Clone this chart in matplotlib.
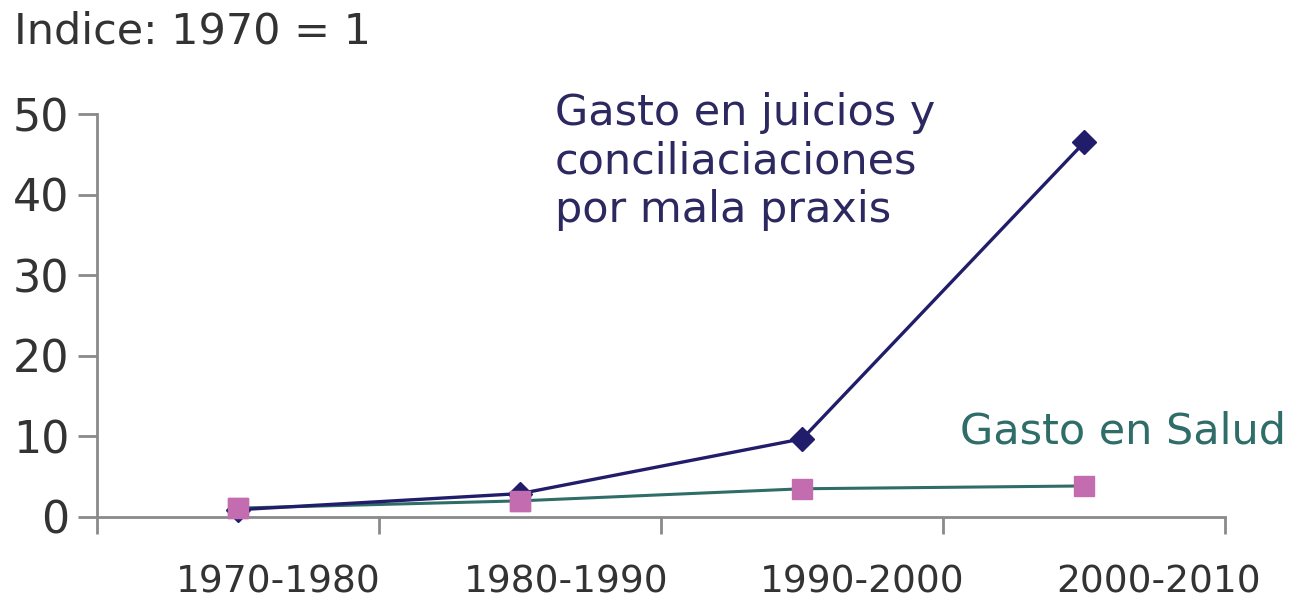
import matplotlib
matplotlib.use("Agg")
import matplotlib.pyplot as plt
import matplotlib.transforms as mtransforms

categories = ["1970-1980", "1980-1990", "1990-2000", "2000-2010"]
juicios = [0.9, 2.9, 9.7, 46.5]
salud = [1.1, 2.0, 3.5, 3.85]
yticks = [0, 10, 20, 30, 40, 50]

navy = "#211d6b"
teal = "#2f6d68"
pink = "#c46cb0"
axis_gray = "#8a8a8a"

plt.rcParams['font.family'] = ['DejaVu Sans']
fig = plt.figure(figsize=(12.94, 6.05), dpi=100)
ax = fig.add_axes([0.075, 0.1455, 0.872, 0.666])

x = list(range(len(categories)))
ax.plot(x, salud, color=teal, lw=2.2, marker="s", ms=14, mfc=pink, mec=pink,
        zorder=3, clip_on=False)
ax.plot(x, juicios, color=navy, lw=2.4, marker="D", ms=12, mfc=navy, mec=navy,
        zorder=4, clip_on=False)
ax.plot(x[:2], salud[:2], ls="none", marker="s", ms=14, mfc=pink, mec=pink, zorder=5, clip_on=False)

ax.set_xlim(-0.5, len(categories) - 0.5)
ax.set_ylim(0, 50)
ax.set_yticks(yticks)
ax.set_yticklabels([str(v) for v in yticks], fontsize=32, color="#333333")

bounds = [i - 0.5 for i in range(len(categories) + 1)]
ax.set_xticks(bounds)
ax.set_xticklabels([""] * len(bounds))
ax.set_xticks(x, minor=True)
ax.set_xticklabels(categories, minor=True, fontsize=27, color="#333333")
ax.tick_params(axis="x", which="minor", length=0, pad=34)
ax.tick_params(axis="x", which="major", length=12, width=2, color=axis_gray, direction="out")
ax.tick_params(axis="y", length=14, width=2, color=axis_gray, direction="out", pad=6)

offsets = [40, 46, 60, 74]
for lab, off in zip(ax.get_xticklabels(minor=True), offsets):
    lab.set_transform(lab.get_transform() + mtransforms.ScaledTranslation(off / 100, 0, fig.dpi_scale_trans))

for s in ["top", "right"]:
    ax.spines[s].set_visible(False)
for s in ["left", "bottom"]:
    ax.spines[s].set_color(axis_gray)
    ax.spines[s].set_linewidth(2)

fig.text(0.011, 0.928, "Indice: 1970 = 1", fontsize=31, color="#333333", ha="left", va="baseline")

ax.text(555 / 1294, 1 - 92 / 605, "Gasto en juicios y\nconciliaciaciones\npor mala praxis",
        transform=fig.transFigure, fontsize=31, color="#2c2860", ha="left", va="top",
        linespacing=1.2)
ax.text(1286 / 1294, 1 - 432 / 605, "Gasto en Salud", transform=fig.transFigure,
        fontsize=31, color=teal, ha="right", va="center")

fig.savefig("out.png", dpi=100, facecolor="white")
